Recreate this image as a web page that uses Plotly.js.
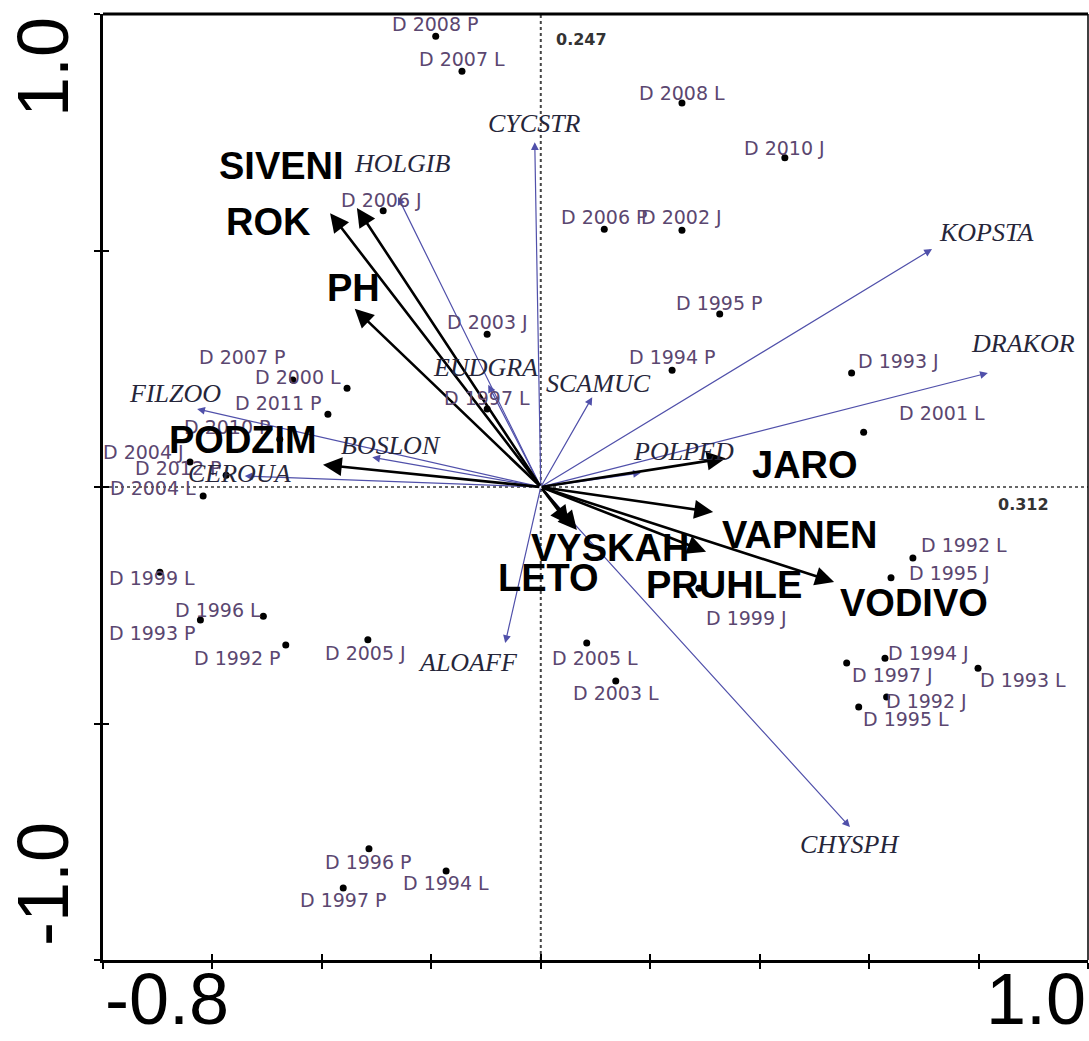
<!DOCTYPE html>
<html>
<head>
<meta charset="utf-8">
<script src="https://cdn.plot.ly/plotly-3.0.1.min.js"></script>
<style>
  html, body { margin: 0; padding: 0; background: #ffffff; }
  #chart { width: 1089px; height: 1041px; }
</style>
</head>
<body>
<div id="chart"></div>
<script>
// ---- Sample scores on ordination axes 1 and 2 ----
const sampleNames = ['D 2008 P','D 2007 L','D 2008 L','D 2010 J','D 2006 J','D 2006 P','D 2002 J','D 1995 P',
  'D 2003 J','D 1994 P','D 1993 J','D 2007 P','D 2000 L','D 2011 P','D 1997 L','D 2001 L','D 2010 P',
  'D 2004 J','D 2012 P','D 2004 L','D 1992 L','D 1995 J','D 1999 L','D 1999 J','D 1996 L','D 1993 P',
  'D 1992 P','D 2005 J','D 2005 L','D 2003 L','D 1994 J','D 1997 J','D 1993 L','D 1992 J','D 1995 L',
  'D 1996 P','D 1994 L','D 1997 P'];
const sampleAx1 = [-0.192,-0.144,0.258,0.446,-0.288,0.116,0.258,0.327,
  -0.098,0.240,0.568,-0.453,-0.354,-0.389,-0.098,0.590,-0.477,
  -0.641,-0.575,-0.617,0.680,0.640,-0.696,0.289,-0.507,-0.622,
  -0.466,-0.316,0.084,0.137,0.629,0.559,0.799,0.632,0.581,
  -0.314,-0.173,-0.361];
const sampleAx2 = [0.953,0.879,0.812,0.696,0.584,0.545,0.543,0.366,
  0.323,0.247,0.241,0.226,0.209,0.154,0.165,0.116,0.101,
  0.053,0.025,-0.019,-0.150,-0.192,-0.180,-0.214,-0.273,-0.281,
  -0.334,-0.323,-0.330,-0.410,-0.362,-0.372,-0.383,-0.444,-0.465,
  -0.765,-0.812,-0.848];

// ---- Species arrows (tip coordinates) ----
const speciesNames = ['CYCSTR','HOLGIB','EUDGRA','SCAMUC','KOPSTA','DRAKOR','POLPED','FILZOO','BOSLON','CEROUA','ALOAFF','CHYSPH'];
const speciesAx1 = [-0.011,-0.261,-0.096,0.094,0.715,0.817,0.183,-0.628,-0.308,-0.541,-0.065,0.565];
const speciesAx2 = [0.729,0.613,0.216,0.190,0.503,0.241,0.030,0.165,0.063,0.023,-0.330,-0.719];

// ---- Environmental variable arrows (tip coordinates) ----
const envNames = ['SIVENI','ROK','PH','PODZIM','JARO','VAPNEN','VYSKAH','LETO','PRUHLE','VODIVO'];
const envAx1 = [-0.336,-0.385,-0.340,-0.398,0.338,0.315,0.066,0.052,0.302,0.536];
const envAx2 = [0.590,0.579,0.377,0.047,0.061,-0.053,-0.091,-0.080,-0.137,-0.201];

// ---- Axes ----
const xRange = [-0.8, 1.0];
const yRange = [-1.0, 1.0];
const xTickVals = [-0.8,-0.6,-0.4,-0.2,0,0.2,0.4,0.6,0.8,1.0];
const yTickVals = [-1.0,-0.5,0,0.5,1.0];
const xEndLabels = ['-0.8','1.0'];
const yEndLabels = ['-1.0','1.0'];
const eigenLabels = ['0.247','0.312'];

// ---- Label nudges in pixels (right, down) from each mark ----
const sampleLabelDx = [0,0,0,0,-2,0,0,0,0,0,47,-50,-49,-49,0,78,-52,-47,-48,-50,51,58,-8,48,-45,-48,-48,-2,8,0,44,46,45,40,47,0,0,0];
const sampleLabelDy = [-12,-12,-10,-10,-11,-12,-13,-11,-12,-13,-12,-23,-11,-11,-11,-19,-12,-10,-7,-8,-13,-5,6,30,-6,13,13,13,15,12,-5,12,12,4,12,13,12,12];
const speciesLabelDx = [0,4,-3,6,54,35,43,-22,19,-5,-37,0];
const speciesLabelDy = [-19,-34,-17,-14,-17,-30,-21,-15,-12,-3,19,17];
const envLabelDx = [-75,-62,-1,-80,79,87,33,-21,18,80];
const envLabelDy = [-42,9,-21,-25,7,23,18,53,33,21];

// ---- Styles ----
const SAMPLE_FONT = { family: 'DejaVu Sans, Verdana, sans-serif', size: 19, color: '#5b4770' };
const SPECIES_FONT = { family: 'Liberation Serif, Times New Roman, serif', size: 26, color: '#26263a', style: 'italic' };
const ENV_FONT = { family: 'Liberation Sans, Arial, sans-serif', size: 38, color: '#000000', weight: 'bold' };
const TICK_FONT = { family: 'Liberation Sans, Arial, sans-serif', size: 72, color: '#000000' };
const EIGEN_FONT = { family: 'DejaVu Sans, sans-serif', size: 16, color: '#333333', weight: 'bold' };
const SPECIES_COLOR = '#5050aa';

const annotations = [];

// species arrows from the origin
speciesNames.forEach((n, i) => {
  annotations.push({
    x: speciesAx1[i], y: speciesAx2[i], xref: 'x', yref: 'y',
    ax: 0, ay: 0, axref: 'x', ayref: 'y',
    text: '', showarrow: true, arrowhead: 2, arrowsize: 1.3, arrowwidth: 1.2,
    arrowcolor: SPECIES_COLOR, standoff: 0
  });
});

// environmental arrows from the origin
envNames.forEach((n, i) => {
  annotations.push({
    x: envAx1[i], y: envAx2[i], xref: 'x', yref: 'y',
    ax: 0, ay: 0, axref: 'x', ayref: 'y',
    text: '', showarrow: true, arrowhead: 2, arrowsize: 1.45, arrowwidth: 2.6,
    arrowcolor: '#000000', standoff: 0
  });
});

// sample labels
sampleNames.forEach((n, i) => {
  annotations.push({
    x: sampleAx1[i], y: sampleAx2[i], xref: 'x', yref: 'y', text: n, showarrow: false,
    xanchor: 'center', yanchor: 'middle',
    xshift: sampleLabelDx[i], yshift: -sampleLabelDy[i], font: SAMPLE_FONT
  });
});

// species labels
speciesNames.forEach((n, i) => {
  annotations.push({
    x: speciesAx1[i], y: speciesAx2[i], xref: 'x', yref: 'y', text: n, showarrow: false,
    xanchor: 'center', yanchor: 'middle',
    xshift: speciesLabelDx[i], yshift: -speciesLabelDy[i], font: SPECIES_FONT
  });
});

// environmental labels
envNames.forEach((n, i) => {
  annotations.push({
    x: envAx1[i], y: envAx2[i], xref: 'x', yref: 'y', text: n, showarrow: false,
    xanchor: 'center', yanchor: 'middle',
    xshift: envLabelDx[i], yshift: -envLabelDy[i], font: ENV_FONT
  });
});

// axis end labels
annotations.push({ x: xRange[0], xref: 'x', y: 0, yref: 'paper', text: xEndLabels[0], showarrow: false,
  xanchor: 'left', yanchor: 'bottom', yshift: -81, font: TICK_FONT });
annotations.push({ x: xRange[1], xref: 'x', y: 0, yref: 'paper', text: xEndLabels[1], showarrow: false,
  xanchor: 'right', yanchor: 'bottom', yshift: -81, font: TICK_FONT });
annotations.push({ x: 0, xref: 'paper', y: yRange[1], yref: 'y', text: yEndLabels[1], showarrow: false,
  textangle: -90, xanchor: 'center', yanchor: 'middle', xshift: -60, yshift: -53, font: TICK_FONT });
annotations.push({ x: 0, xref: 'paper', y: yRange[0], yref: 'y', text: yEndLabels[0], showarrow: false,
  textangle: -90, xanchor: 'center', yanchor: 'middle', xshift: -60, yshift: 76, font: TICK_FONT });

// eigenvalue labels at the ends of the axis lines
annotations.push({ x: 0, xref: 'x', y: 1, yref: 'paper', text: eigenLabels[0], showarrow: false,
  xanchor: 'left', yanchor: 'middle', xshift: 13, yshift: -25, font: EIGEN_FONT });
annotations.push({ x: 1, xref: 'paper', y: 0, yref: 'y', text: eigenLabels[1], showarrow: false,
  xanchor: 'right', yanchor: 'middle', xshift: -37, yshift: -17, font: EIGEN_FONT });

const samples = {
  type: 'scatter', mode: 'markers',
  x: sampleAx1, y: sampleAx2, text: sampleNames, hoverinfo: 'text',
  marker: { size: 7, color: '#000000' },
  cliponaxis: false, showlegend: false
};

// empty companion trace so the inner-tick axes are laid out
const innerTicks = {
  type: 'scatter', mode: 'markers', x: [], y: [], xaxis: 'x2', yaxis: 'y2',
  hoverinfo: 'skip', showlegend: false
};

const axisCommon = {
  showgrid: false, zeroline: false, showticklabels: false,
  ticks: 'outside', ticklen: 6, tickwidth: 2, tickcolor: '#000000',
  showline: true, linecolor: '#000000', linewidth: 3, mirror: false
};

const layout = {
  width: 1089, height: 1041,
  margin: { l: 103, r: 1, t: 14, b: 81, pad: 0 },
  paper_bgcolor: '#ffffff', plot_bgcolor: '#ffffff',
  showlegend: false,
  xaxis: Object.assign({}, axisCommon, { range: xRange, tickmode: 'array', tickvals: xTickVals }),
  yaxis: Object.assign({}, axisCommon, { range: yRange, tickmode: 'array', tickvals: yTickVals }),
  // inner tick halves so the ticks cross the axis lines
  xaxis2: { overlaying: 'x', anchor: 'y2', side: 'bottom', range: xRange, tickmode: 'array', tickvals: xTickVals,
    ticks: 'inside', ticklen: 6, tickwidth: 2, tickcolor: '#000000',
    showticklabels: false, showgrid: false, zeroline: false, showline: false },
  yaxis2: { overlaying: 'y', anchor: 'x2', side: 'left', range: yRange, tickmode: 'array', tickvals: yTickVals,
    ticks: 'inside', ticklen: 6, tickwidth: 2, tickcolor: '#000000',
    showticklabels: false, showgrid: false, zeroline: false, showline: false },
  shapes: [
    { type: 'line', xref: 'x', yref: 'y', x0: 0, x1: 0, y0: yRange[0], y1: yRange[1],
      line: { color: '#444444', width: 2, dash: 'dot' }, layer: 'below' },
    { type: 'line', xref: 'x', yref: 'y', x0: xRange[0], x1: xRange[1], y0: 0, y1: 0,
      line: { color: '#666666', width: 2, dash: 'dot' }, layer: 'below' },
    { type: 'line', xref: 'paper', yref: 'paper', x0: 0, x1: 1, y0: 1, y1: 1,
      line: { color: '#000000', width: 3 } },
    { type: 'line', xref: 'paper', yref: 'paper', x0: 1, x1: 1, y0: 0, y1: 1,
      line: { color: '#000000', width: 1.5 } }
  ],
  annotations: annotations
};

Plotly.newPlot('chart', [innerTicks, samples], layout, { displayModeBar: false, staticPlot: true });
</script>
</body>
</html>
